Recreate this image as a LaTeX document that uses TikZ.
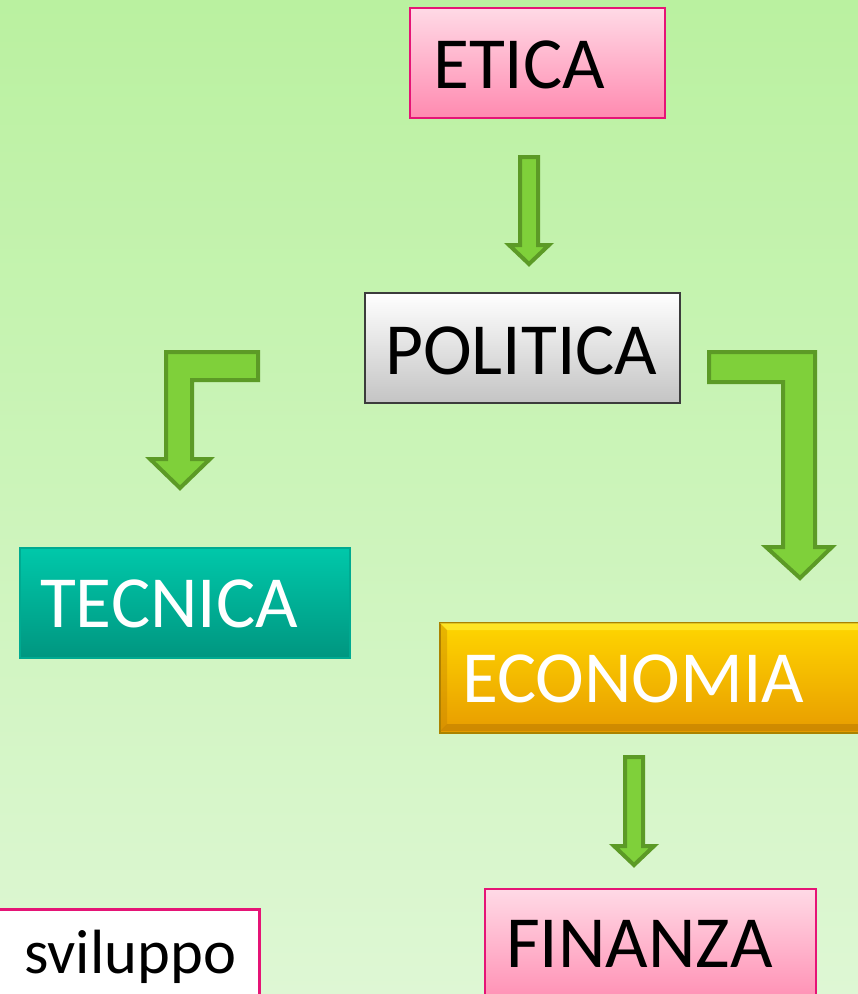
\documentclass[tikz,border=0pt]{standalone}
\usepackage{fontspec}
\setmainfont{Carlito}
\definecolor{bgTop}{RGB}{186,241,160}
\definecolor{bgBot}{RGB}{222,247,212}
\definecolor{pinkTop}{RGB}{255,218,230}
\definecolor{pinkBot}{RGB}{255,138,176}
\definecolor{pinkLine}{RGB}{229,20,118}
\definecolor{grayTop}{RGB}{255,255,255}
\definecolor{grayBot}{RGB}{196,196,196}
\definecolor{grayLine}{RGB}{60,60,60}
\definecolor{tealTop}{RGB}{0,200,170}
\definecolor{tealBot}{RGB}{0,150,128}
\definecolor{tealLine}{RGB}{0,170,145}
\definecolor{goldTop}{RGB}{255,214,0}
\definecolor{goldBot}{RGB}{232,156,0}
\definecolor{goldLine}{RGB}{170,130,0}
\definecolor{goldLight}{RGB}{255,240,60}
\definecolor{goldDark}{RGB}{190,125,0}
\definecolor{arrFill}{RGB}{127,208,58}
\definecolor{arrLine}{RGB}{92,154,38}
\tikzset{
  boxbase/.style={rectangle, anchor=north west, inner sep=0pt, line width=1.5pt},
  pinkbox/.style={boxbase, draw=pinkLine, top color=pinkTop, bottom color=pinkBot},
  graybox/.style={boxbase, draw=grayLine, top color=grayTop, bottom color=grayBot},
  tealbox/.style={boxbase, draw=tealLine, top color=tealTop, bottom color=tealBot},
  goldbox/.style={boxbase, draw=goldLine, top color=goldTop, bottom color=goldBot},
  whitebox/.style={boxbase, draw=pinkLine, fill=white, line width=3pt},
  bigtext/.style={anchor=base west, inner sep=0pt, font=\fontsize{73.5}{80}\selectfont},
  smalltext/.style={anchor=base west, inner sep=0pt, font=\fontsize{62.5}{70}\selectfont},
  blockarrow/.style={fill=arrFill, draw=arrLine, line width=4pt, line join=miter}
}
\begin{document}
\begin{tikzpicture}[x=1pt,y=-1pt]
\useasboundingbox (0,0) rectangle (858,994);
\clip (0,0) rectangle (858,994);
\shade[top color=bgTop, bottom color=bgBot] (0,0) rectangle (858,994);

% boxes
\node[pinkbox, minimum width=255pt, minimum height=110pt] (etica) at (409,7) {};
\node[bigtext] (eticaT) at (433,88) {ETICA};

\node[graybox, minimum width=315pt, minimum height=110pt] (politica) at (364,292) {};
\node[bigtext] (politicaT) at (385,374) {POLITICA};

\node[tealbox, minimum width=330pt, minimum height=110pt] (tecnica) at (19,547) {};
\node[bigtext, text=white] (tecnicaT) at (40,627) {TECNICA};

\node[goldbox, minimum width=440pt, minimum height=110pt] (economia) at (439,622) {};
\fill[goldLight, opacity=0.6] (440,623) -- (880,623) -- (872,630) -- (447,630) -- cycle;
\fill[goldDark, opacity=0.6] (440,731) -- (880,731) -- (872,724) -- (447,724) -- cycle;
\fill[goldDark, opacity=0.35] (440,623) -- (447,630) -- (447,724) -- (440,731) -- cycle;
\node[bigtext, text=white] (economiaT) at (462,702) {ECONOMIA};

\node[pinkbox, minimum width=331pt, minimum height=120pt] (finanza) at (484,888) {};
\node[bigtext] (finanzaT) at (506,967) {FINANZA};

\node[whitebox, minimum width=270pt, minimum height=110pt] (sviluppo) at (-12,908) {};
\node[smalltext] (sviluppoT) at (24,973) {sviluppo};

% block arrows
\draw[blockarrow] (520,157) -- (538,157) -- (538,245) -- (549,245) -- (529,264) -- (509,245) -- (520,245) -- cycle;
\draw[blockarrow] (258,352) -- (258,380) -- (192,380) -- (192,459) -- (210,459) -- (180,488) -- (150,459) -- (166,459) -- (166,352) -- cycle;
\draw[blockarrow] (709,352) -- (815,352) -- (815,547) -- (832,547) -- (800,578) -- (766,547) -- (783,547) -- (783,382) -- (709,382) -- cycle;
\draw[blockarrow] (625,757) -- (643,757) -- (643,846) -- (654,846) -- (634,865) -- (614,846) -- (625,846) -- cycle;
\end{tikzpicture}
\end{document}
